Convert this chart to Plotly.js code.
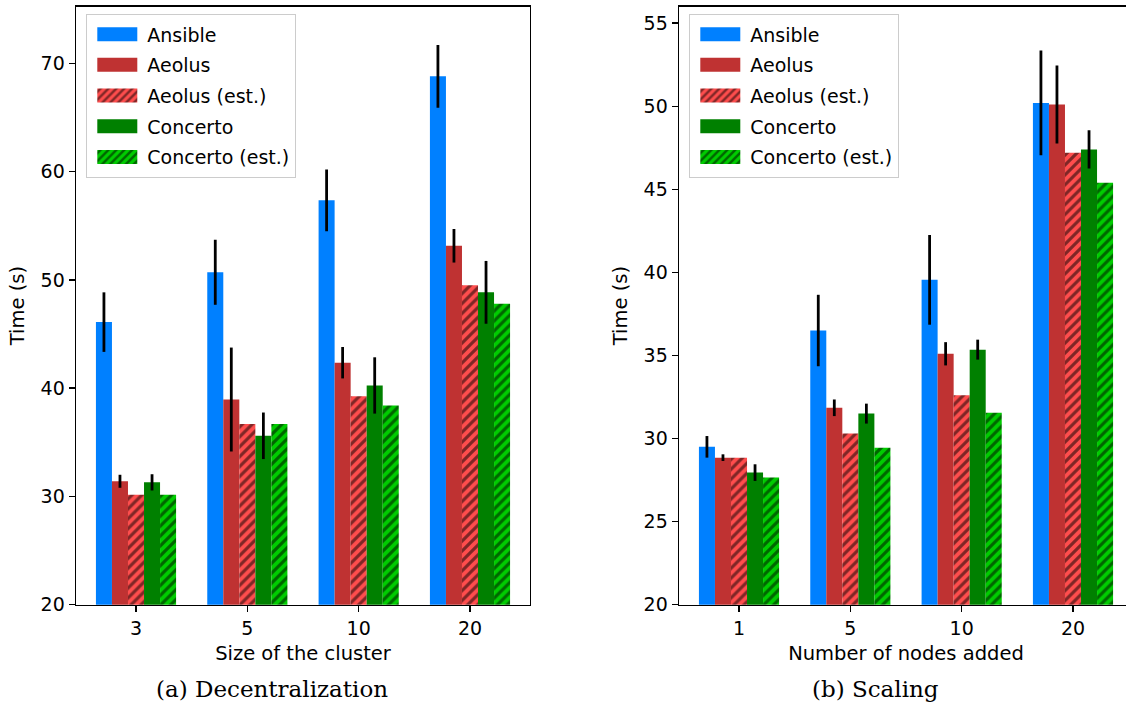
<!DOCTYPE html>
<html>
<head>
<meta charset="utf-8">
<script src="https://cdn.plot.ly/plotly-3.0.1.min.js"></script>
<style>
html, body { margin: 0; padding: 0; overflow: hidden; background: #fff; }
#chart { width: 1140px; height: 707px; }
</style>
</head>
<body>
<div id="chart"></div>
<script>
// ---- data ----
const seriesNames = ["Ansible", "Aeolus", "Aeolus (est.)", "Concerto", "Concerto (est.)"];

// (a) Decentralization
const clusterSizes = ["3", "5", "10", "20"];
const decAnsible      = [46.1, 50.7, 57.35, 68.8];
const decAnsibleErr   = [2.75, 3.0, 2.85, 2.9];
const decAeolus       = [31.4, 38.95, 42.35, 53.15];
const decAeolusErr    = [0.6, 4.8, 1.45, 1.55];
const decAeolusEst    = [30.15, 36.7, 39.25, 49.5];
const decConcerto     = [31.3, 35.6, 40.25, 48.85];
const decConcertoErr  = [0.75, 2.15, 2.6, 2.9];
const decConcertoEst  = [30.15, 36.7, 38.4, 47.8];

// (b) Scaling
const nodesAdded = ["1", "5", "10", "20"];
const scaAnsible      = [29.5, 36.5, 39.55, 50.2];
const scaAnsibleErr   = [0.65, 2.15, 2.7, 3.15];
const scaAeolus       = [28.85, 31.85, 35.1, 50.1];
const scaAeolusErr    = [0.2, 0.5, 0.7, 2.35];
const scaAeolusEst    = [28.85, 30.3, 32.6, 47.2];
const scaConcerto     = [27.95, 31.5, 35.35, 47.4];
const scaConcertoErr  = [0.5, 0.6, 0.6, 1.15];
const scaConcertoEst  = [27.65, 29.45, 31.55, 45.4];

// ---- styles ----
const colAnsible = "#0080ff";
const colAeolus = "#bf3232";
const colAeolusEst = "#ff4d4d";
const colConcerto = "#008000";
const colConcertoEst = "#00cc00";

function solidBar(name, x, y, err, color, xa, ya, leg, grp) {
  const t = {
    type: "bar", name: name, x: x, y: y,
    xaxis: xa, yaxis: ya, legend: leg, legendgroup: grp, showlegend: true,
    marker: { color: color, line: { width: 0 } }
  };
  if (err) {
    t.error_y = { type: "data", array: err, visible: true, color: "#000", thickness: 2.8, width: 0 };
  }
  return t;
}
function hatchBar(name, x, y, color, xa, ya, leg, grp) {
  return {
    type: "bar", name: name, x: x, y: y,
    xaxis: xa, yaxis: ya, legend: leg, legendgroup: grp, showlegend: true,
    marker: {
      color: color, line: { width: 0 },
      pattern: { shape: "/", fillmode: "overlay", bgcolor: color, fgcolor: "#000", size: 7, solidity: 0.45 }
    }
  };
}

const traces = [
  solidBar(seriesNames[0], clusterSizes, decAnsible, decAnsibleErr, colAnsible, "x", "y", "legend", "a0"),
  solidBar(seriesNames[1], clusterSizes, decAeolus, decAeolusErr, colAeolus, "x", "y", "legend", "a1"),
  hatchBar(seriesNames[2], clusterSizes, decAeolusEst, colAeolusEst, "x", "y", "legend", "a2"),
  solidBar(seriesNames[3], clusterSizes, decConcerto, decConcertoErr, colConcerto, "x", "y", "legend", "a3"),
  hatchBar(seriesNames[4], clusterSizes, decConcertoEst, colConcertoEst, "x", "y", "legend", "a4"),

  solidBar(seriesNames[0], nodesAdded, scaAnsible, scaAnsibleErr, colAnsible, "x2", "y2", "legend2", "b0"),
  solidBar(seriesNames[1], nodesAdded, scaAeolus, scaAeolusErr, colAeolus, "x2", "y2", "legend2", "b1"),
  hatchBar(seriesNames[2], nodesAdded, scaAeolusEst, colAeolusEst, "x2", "y2", "legend2", "b2"),
  solidBar(seriesNames[3], nodesAdded, scaConcerto, scaConcertoErr, colConcerto, "x2", "y2", "legend2", "b3"),
  hatchBar(seriesNames[4], nodesAdded, scaConcertoEst, colConcertoEst, "x2", "y2", "legend2", "b4")
];

const W = 1140, H = 707;
const tickFont = { family: "DejaVu Sans", size: 19, color: "#000" };
const titleFont = { family: "DejaVu Sans", size: 19.5, color: "#000" };
function xAxis(domain, cats, title) {
  return {
    domain: domain, type: "category", categoryorder: "array", categoryarray: cats,
    range: [-0.539, 3.539], showline: true, linecolor: "#000", linewidth: 1.4, mirror: true,
    ticks: "outside", ticklen: 6, tickwidth: 1.4, tickcolor: "#000", showgrid: false, zeroline: false,
    tickfont: tickFont, fixedrange: true,
    title: { text: title, font: titleFont, standoff: 8 }
  };
}
function yAxis(anchor, range, dtick) {
  return {
    domain: [(H - 604.7) / H, (H - 6.5) / H], anchor: anchor, range: range,
    tick0: 20, dtick: dtick, showline: true, linecolor: "#000", linewidth: 1.4, mirror: true,
    ticks: "outside", ticklen: 6, tickwidth: 1.4, tickcolor: "#000", showgrid: false, zeroline: false,
    tickfont: tickFont, fixedrange: true,
    title: { text: "Time (s)", font: titleFont, standoff: 10 }
  };
}
function legendBox(x) {
  return {
    x: x, y: (H - 14) / H, xanchor: "left", yanchor: "top", xref: "paper", yref: "paper",
    bgcolor: "rgba(255,255,255,0.8)", bordercolor: "#cccccc", borderwidth: 1.3,
    font: { family: "DejaVu Sans", size: 19, color: "#000" },
    itemwidth: 50, tracegroupgap: 3, traceorder: "grouped"
  };
}

const layout = {
  width: W, height: H,
  margin: { l: 0, r: 0, t: 0, b: 0 },
  paper_bgcolor: "#fff", plot_bgcolor: "#fff",
  barmode: "group", bargap: 0.28, bargroupgap: 0,
  xaxis: xAxis([76 / W, 530 / W], clusterSizes, "Size of the cluster"),
  yaxis: yAxis("x", [20, 75.25], 10),
  xaxis2: xAxis([679 / W, 1133 / W], nodesAdded, "Number of nodes added"),
  yaxis2: yAxis("x2", [20, 56.0], 5),
  legend: legendBox(86 / W),
  legend2: legendBox(689 / W),
  annotations: [
    { text: "(a) Decentralization", xref: "paper", yref: "paper", x: 272 / W, y: (H - 689) / H,
      xanchor: "center", yanchor: "middle", showarrow: false,
      font: { family: "DejaVu Serif", size: 23, color: "#000" } },
    { text: "(b) Scaling", xref: "paper", yref: "paper", x: 875 / W, y: (H - 689) / H,
      xanchor: "center", yanchor: "middle", showarrow: false,
      font: { family: "DejaVu Serif", size: 23, color: "#000" } }
  ]
};

function widenLegendPatches() {
  document.querySelectorAll("#chart .legendpoints path").forEach(function (p) {
    p.setAttribute("d", "M20,7H-20V-7H20Z");
  });
}
Plotly.newPlot("chart", traces, layout, { staticPlot: true, displayModeBar: false }).then(function () {
  widenLegendPatches();
  setTimeout(widenLegendPatches, 50);
});
</script>
</body>
</html>
